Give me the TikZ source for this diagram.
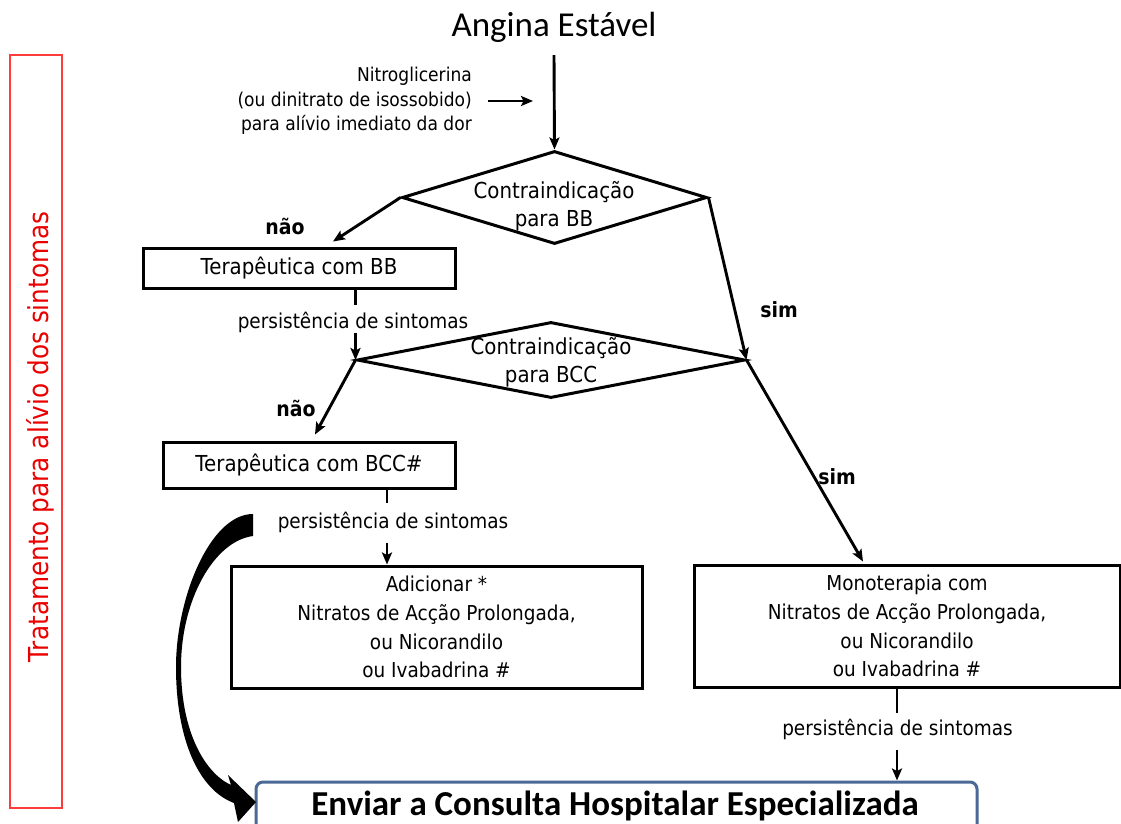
\documentclass[tikz,border=0pt]{standalone}
\usepackage{fontspec}
\usetikzlibrary{arrows.meta,shapes.geometric,calc}
\newfontfamily\tahfont[FakeStretch=0.9]{DejaVu Sans}
\newfontfamily\calfont{Carlito}
\definecolor{redline}{RGB}{255,60,60}
\definecolor{redtext}{RGB}{235,0,0}
\definecolor{envblue}{RGB}{75,105,150}
\begin{document}
\begin{tikzpicture}[x=1pt,y=-1pt,
  conn/.style={-{Stealth[length=12pt,width=10pt,inset=2.5pt]}, line width=2.9pt},
  plain/.style={line width=2.9pt},
  box/.style={draw, rectangle, line width=3pt, inner sep=0pt, align=center,
    font=\tahfont\fontsize{22}{28.5}\selectfont},
  bigbox/.style={draw, rectangle, line width=3pt, inner sep=0pt, align=center,
    font=\tahfont\fontsize{20.5}{28.7}\selectfont},
  dia/.style={draw, diamond, line width=3pt, inner sep=0pt},
  lbl/.style={inner sep=0pt, align=center, font=\tahfont\fontsize{22}{28}\selectfont},
  plbl/.style={inner sep=0pt, font=\tahfont\fontsize{20.5}{24}\selectfont},
  yn/.style={inner sep=0pt, font=\tahfont\bfseries\fontsize{21}{24}\selectfont}]
\clip (0,0) rectangle (1121,823);
\fill[white] (0,0) rectangle (1121,823);

% side label
\node[draw=redline, line width=2.2pt, minimum width=52pt, minimum height=753pt, inner sep=0pt] (side) at (36,431.5) {};
\node[rotate=90, inner sep=0pt, text=redtext, font=\tahfont\fontsize{27.5}{30}\selectfont] (sidet) at (40,437) {Tratamento para alívio dos sintomas};

% title and nitro
\node[inner sep=0pt, font=\calfont\fontsize{35}{40}\selectfont] (title) at (554,27) {Angina Estável};
\node[inner sep=0pt, anchor=east, align=right, font=\tahfont\fontsize{19}{24.5}\selectfont] (nitro) at (472,101) {Nitroglicerina\\(ou dinitrato de isossobido)\\para alívio imediato da dor};
\coordinate (nitroend) at (533,101);
\coordinate (xa) at (387,0);
\coordinate (xm) at (897,0);

% diamonds
\node[dia, minimum width=305pt, minimum height=93pt] (d1) at (554.5,197.5) {};
\node[lbl] (d1t) at (554,206) {Contraindicação\\para BB};
\node[dia, minimum width=388pt, minimum height=76pt] (d2) at (551,360) {};
\node[lbl] (d2t) at (551,362) {Contraindicação\\para BCC};

% boxes
\node[box, minimum width=312pt, minimum height=40pt] (bb) at (299,268) {Terapêutica com BB};
\node[box, minimum width=292pt, minimum height=46pt] (bcc) at (309,465) {Terapêutica com BCC\#};
\node[bigbox, minimum width=411pt, minimum height=122pt] (add) at (436.5,627) {Adicionar *\\Nitratos de Acção Prolongada,\\ou Nicorandilo\\ou Ivabadrina \#};
\node[bigbox, minimum width=426pt, minimum height=122pt] (mono) at (907,626) {Monoterapia com\\Nitratos de Acção Prolongada,\\ou Nicorandilo\\ou Ivabadrina \#};
\node[draw=envblue, line width=3pt, rounded corners=7pt, minimum width=721pt, minimum height=78pt, inner sep=0pt] (env) at (616.5,821) {};
\node[inner sep=0pt, anchor=base, font=\calfont\bfseries\fontsize{35}{40}\selectfont] (envt) at (615,815) {Enviar a Consulta Hospitalar Especializada};

% labels
\node[plbl] (p1) at (353,322) {persistência de sintomas};
\node[plbl] (p2) at (393,522) {persistência de sintomas};
\node[plbl] (p3) at (897.5,729) {persistência de sintomas};
\node[yn] (n1) at (285,226) {não};
\node[yn] (s1) at (779,310) {sim};
\node[yn] (n2) at (296,408) {não};
\node[yn] (s2) at (837,477) {sim};

% connectors
\draw[conn] (title.south |- 0,55) -- (d1.north);
\draw[conn] ([xshift=16pt]nitro.east) -- (nitroend);
\draw[conn] (d1.west) -- ($(bb.north)+(34,-5)$);
\draw[conn] (d1.east) -- (d2.east);
\draw[plain, shorten >=6pt] (bb.south -| d2.west) -- (p1.north -| d2.west);
\draw[conn] (p1.south -| d2.west) -- (d2.west);
\draw[conn] (d2.west) -- ($(bcc.north)+(6,-6)$);
\draw[conn] (d2.east) -- ($(mono.north)+(-44,-2)$);
\draw[plain, shorten >=8pt] (bcc.south -| xa) -- (p2.north -| xa);
\draw[conn, shorten <=10pt] (p2.south -| xa) -- (add.north -| xa);
\draw[plain, shorten >=5pt] (mono.south -| xm) -- (p3.north -| xm);
\draw[conn, shorten <=10pt] (p3.south -| xm) -- (env.north -| xm);

% curved block arrow
\fill (253,514) -- (253,536)
  .. controls (214,541) and (181,600) .. (181,667)
  .. controls (181,732) and (205,773) .. (231,785)
  -- (228,775) -- (256,802) -- (238,822) -- (234,803)
  .. controls (199,790) and (176,740) .. (176,667)
  .. controls (176,598) and (210,514) .. (253,514) -- cycle;
\end{tikzpicture}
\end{document}
